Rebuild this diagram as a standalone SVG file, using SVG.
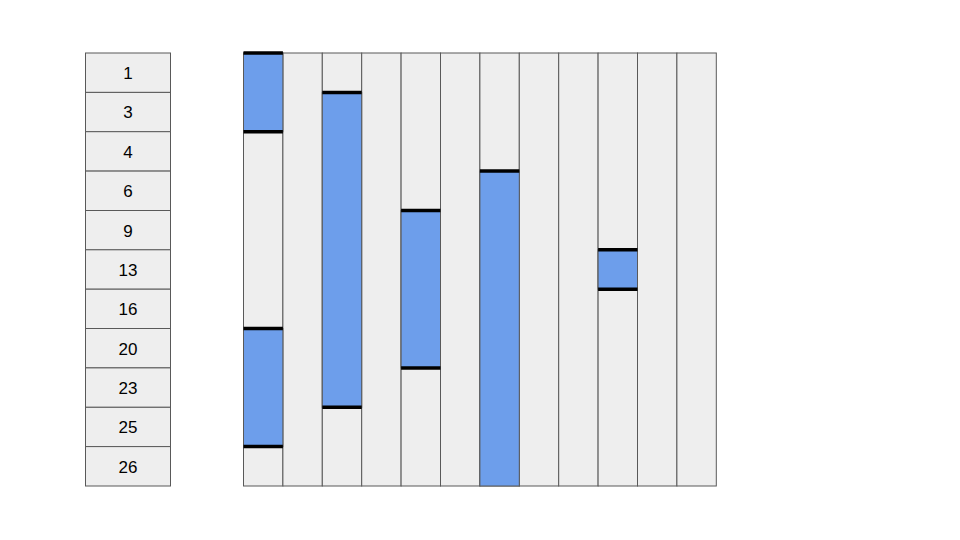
<svg xmlns="http://www.w3.org/2000/svg" width="960" height="540" viewBox="0 0 960 540">
<style>
.c{fill:#eeeeee;stroke:#595959;stroke-width:1}
.b{fill:#6d9eeb;stroke:#595959;stroke-width:1}
.m{stroke:#000;stroke-width:3.5}
.t{font-family:"Liberation Sans",Arial,sans-serif;font-size:17px;fill:#000;text-anchor:middle;dominant-baseline:central}
</style>
<rect width="960" height="540" fill="#ffffff"/>
<g id="labels">
<g id="r1"><rect class="c" x="85.5" y="53" width="85" height="39.4"/><text class="t" x="128" y="73.5">1</text></g>
<g id="r3"><rect class="c" x="85.5" y="92.4" width="85" height="39.4"/><text class="t" x="128" y="112.9">3</text></g>
<g id="r4"><rect class="c" x="85.5" y="131.7" width="85" height="39.4"/><text class="t" x="128" y="152.2">4</text></g>
<g id="r6"><rect class="c" x="85.5" y="171.1" width="85" height="39.4"/><text class="t" x="128" y="191.6">6</text></g>
<g id="r9"><rect class="c" x="85.5" y="210.5" width="85" height="39.4"/><text class="t" x="128" y="231">9</text></g>
<g id="r13"><rect class="c" x="85.5" y="249.8" width="85" height="39.4"/><text class="t" x="128" y="270.3">13</text></g>
<g id="r16"><rect class="c" x="85.5" y="289.2" width="85" height="39.4"/><text class="t" x="128" y="309.7">16</text></g>
<g id="r20"><rect class="c" x="85.5" y="328.5" width="85" height="39.4"/><text class="t" x="128" y="349">20</text></g>
<g id="r23"><rect class="c" x="85.5" y="367.9" width="85" height="39.4"/><text class="t" x="128" y="388.4">23</text></g>
<g id="r25"><rect class="c" x="85.5" y="407.3" width="85" height="39.4"/><text class="t" x="128" y="427.8">25</text></g>
<g id="r26"><rect class="c" x="85.5" y="446.6" width="85" height="39.4"/><text class="t" x="128" y="467.1">26</text></g>
</g>
<g id="grid">
<rect class="c" x="243.5" y="53" width="39.4" height="433"/>
<rect class="c" x="282.9" y="53" width="39.4" height="433"/>
<rect class="c" x="322.3" y="53" width="39.4" height="433"/>
<rect class="c" x="361.7" y="53" width="39.4" height="433"/>
<rect class="c" x="401.1" y="53" width="39.4" height="433"/>
<rect class="c" x="440.5" y="53" width="39.4" height="433"/>
<rect class="c" x="479.9" y="53" width="39.4" height="433"/>
<rect class="c" x="519.3" y="53" width="39.4" height="433"/>
<rect class="c" x="558.7" y="53" width="39.4" height="433"/>
<rect class="c" x="598.1" y="53" width="39.4" height="433"/>
<rect class="c" x="637.5" y="53" width="39.4" height="433"/>
<rect class="c" x="676.9" y="53" width="39.4" height="433"/>
</g>
<g id="bars">
<g id="bar1"><rect class="b" x="243.5" y="53" width="39.4" height="78.7"/><line class="m" x1="243.5" y1="53" x2="282.9" y2="53"/><line class="m" x1="243.5" y1="131.7" x2="282.9" y2="131.7"/></g>
<g id="bar2"><rect class="b" x="243.5" y="328.5" width="39.4" height="118.1"/><line class="m" x1="243.5" y1="328.5" x2="282.9" y2="328.5"/><line class="m" x1="243.5" y1="446.6" x2="282.9" y2="446.6"/></g>
<g id="bar3"><rect class="b" x="322.3" y="92.4" width="39.4" height="314.9"/><line class="m" x1="322.3" y1="92.4" x2="361.7" y2="92.4"/><line class="m" x1="322.3" y1="407.3" x2="361.7" y2="407.3"/></g>
<g id="bar4"><rect class="b" x="401.1" y="210.5" width="39.4" height="157.4"/><line class="m" x1="401.1" y1="210.5" x2="440.5" y2="210.5"/><line class="m" x1="401.1" y1="367.9" x2="440.5" y2="367.9"/></g>
<g id="bar5"><rect class="b" x="479.9" y="171.1" width="39.4" height="314.9"/><line class="m" x1="479.9" y1="171.1" x2="519.3" y2="171.1"/></g>
<g id="bar6"><rect class="b" x="598.1" y="249.8" width="39.4" height="39.4"/><line class="m" x1="598.1" y1="249.8" x2="637.5" y2="249.8"/><line class="m" x1="598.1" y1="289.2" x2="637.5" y2="289.2"/></g>
</g>
</svg>
